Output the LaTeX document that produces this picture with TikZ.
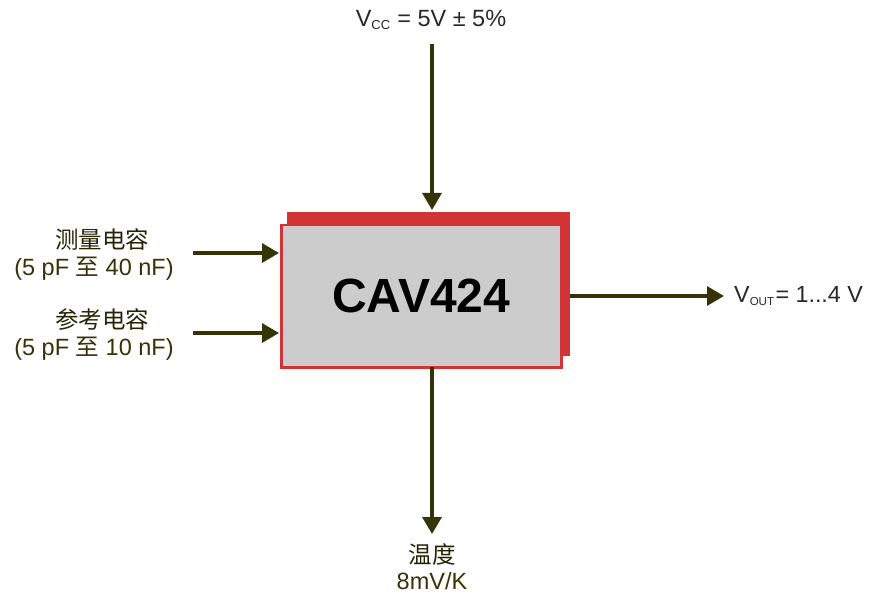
\documentclass[tikz,border=0pt]{standalone}
\usepackage{fontspec}
\setmainfont{Liberation Sans}
\newfontfamily\cjk{Noto Sans CJK SC}
\usetikzlibrary{arrows.meta}
\definecolor{olivedark}{RGB}{52,52,8}
\definecolor{boxred}{RGB}{208,52,52}
\definecolor{boxgray}{RGB}{204,204,204}
\definecolor{labgray}{RGB}{40,40,40}
\tikzset{
  conn/.style={draw=olivedark, line width=3.3pt, -{Triangle[length=17pt,width=19pt]}},
  lab/.style={font=\fontsize{23.5}{28}\selectfont, text=labgray, inner sep=0pt},
  labol/.style={font=\fontsize{23.5}{28}\selectfont, text=olivedark, inner sep=0pt},
}
\begin{document}
\begin{tikzpicture}[x=1pt,y=-1pt]
\useasboundingbox (0,0) rectangle (869,593);
% shadow
\node[fill=boxred, draw=none, minimum width=283pt, minimum height=144pt, inner sep=0pt, anchor=north west] (shadow) at (287,212) {};
% main box
\node[fill=boxgray, draw=boxred, line width=2.5pt, minimum width=280pt, minimum height=142pt, inner sep=0pt, anchor=north west,
  font=\fontsize{48}{56}\selectfont\bfseries] (box) at (280,224) {CAV424};
% labels
\node[lab] (vcc) at (431,20) {V\textsubscript{\fontsize{13}{15}\selectfont CC} = 5V ± 5\%};
\node[lab, text=olivedark!70!black] (m1) at (102,240) {\cjk 测量电容};
\node[labol] (m2) at (94,269) {(5 pF {\cjk 至} 40 nF)};
\node[lab, text=olivedark!70!black] (r1) at (102,320) {\cjk 参考电容};
\node[labol] (r2) at (94,349) {(5 pF {\cjk 至} 10 nF)};
\node[lab, anchor=west, font=\fontsize{23.3}{27}\selectfont] (vout) at (734,296) {V\textsubscript{\fontsize{11.5}{13}\selectfont OUT}\kern1pt= 1...4 V};
\node[lab, text=olivedark!70!black] (t1) at (432,555) {\cjk 温度};
\node[labol] (t2) at (432,581) {8mV/K};
% connector ends
\coordinate (vcctop) at (432,44);
\coordinate (vccend) at (432,210);
\coordinate (m0) at (193,253);
\coordinate (mend) at (279,253);
\coordinate (r0) at (193,333);
\coordinate (rend) at (279,333);
\coordinate (outs) at (570,296);
\coordinate (oute) at (724,296);
\coordinate (ts) at (432,367);
\coordinate (te) at (432,534);
\draw[conn] (vcctop) -- (vccend);
\draw[conn] (m0) -- (mend);
\draw[conn] (r0) -- (rend);
\draw[conn] (outs) -- (oute);
\draw[conn] (ts) -- (te);
\end{tikzpicture}
\end{document}
